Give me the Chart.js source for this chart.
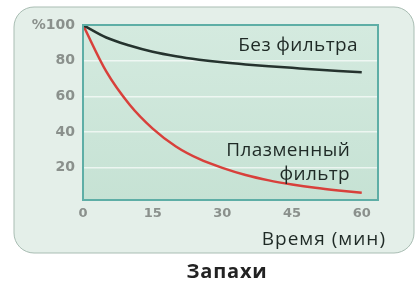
<!DOCTYPE html>
<html>
<head>
<meta charset="utf-8">
<script src="https://cdn.jsdelivr.net/npm/chart.js@4"></script>
<style>
  html, body { margin: 0; padding: 0; background: #fff; }
  #wrap { width: 415px; height: 284px; }
</style>
</head>
<body>
<div id="wrap"><canvas id="chart" width="415" height="284"></canvas></div>
<script>
// time in minutes
const minutes = [0, 5, 10, 15, 20, 25, 30, 35, 40, 45, 50, 55, 60];
// remaining odour, %
const noFilter = [100, 93, 88.5, 85, 82.5, 80.6, 79.1, 77.9, 76.9, 76, 75.1, 74.3, 73.5];
const plasmaFilter = [100, 74, 55.5, 42, 32, 25, 20, 16, 13, 10.7, 8.8, 7.3, 6];
const yTicks = [20, 40, 60, 80, 100];
const xTicks = [0, 15, 30, 45, 60];
const seriesNames = ["Без фильтра", "Плазменный фильтр"];
const xTitle = "Время (мин)";
const chartTitle = "Запахи";

const toPoints = (vals) => vals.map((v, i) => ({ x: minutes[i], y: v }));

// panel, plot fill, frame and labels
const decor = {
    id: "decor",
    beforeDraw(chart) {
        const { ctx, chartArea: a } = chart;
        ctx.save();
        ctx.fillStyle = "#ffffff";
        ctx.fillRect(0, 0, chart.width, chart.height);
        // rounded panel
        ctx.beginPath();
        ctx.roundRect(14, 7, 400, 246, 20);
        ctx.fillStyle = "#e4efe9";
        ctx.fill();
        ctx.strokeStyle = "#a9bdb3";
        ctx.lineWidth = 1;
        ctx.stroke();
        // plot area
        const g = ctx.createLinearGradient(0, a.top, 0, a.bottom);
        g.addColorStop(0, "#d4eadf");
        g.addColorStop(1, "#c6e2d4");
        ctx.fillStyle = g;
        ctx.fillRect(a.left, a.top, a.right - a.left, a.bottom - a.top);
        ctx.restore();
    },
    afterDatasetsDraw(chart) {
        const { ctx, chartArea: a, scales: { x, y } } = chart;
        ctx.save();
        ctx.strokeStyle = "#5eaea6";
        ctx.lineWidth = 2;
        ctx.strokeRect(a.left, a.top, a.right - a.left, a.bottom - a.top);

        ctx.fillStyle = "#1f2a26";
        ctx.font = "19px 'Open Sans', sans-serif";
        ctx.letterSpacing = "0.4px";
        ctx.textAlign = "right";
        ctx.textBaseline = "middle";
        ctx.fillText(seriesNames[0], x.getPixelForValue(59.2), y.getPixelForValue(88.5));
        ctx.fillText("Плазменный", x.getPixelForValue(57.5), y.getPixelForValue(29.5));
        ctx.fillText("фильтр", x.getPixelForValue(57.5), y.getPixelForValue(16.5));

        ctx.letterSpacing = "1px";
        ctx.fillText(xTitle, 386, 240);

        ctx.textAlign = "center";
        ctx.font = "bold 20px 'Open Sans', sans-serif";
        ctx.letterSpacing = "0.8px";
        ctx.fillStyle = "#222";
        ctx.fillText(chartTitle, 227, 272);
        ctx.restore();
    }
};

new Chart(document.getElementById("chart"), {
    type: "line",
    data: {
        datasets: [
            { label: seriesNames[0], data: toPoints(noFilter), borderColor: "#25332e", borderWidth: 2.5, pointRadius: 0, cubicInterpolationMode: "monotone" },
            { label: seriesNames[1], data: toPoints(plasmaFilter), borderColor: "#d8403b", borderWidth: 2.5, pointRadius: 0, cubicInterpolationMode: "monotone" },
        ],
    },
    options: {
        responsive: false,
        animation: false,
        layout: { padding: { left: 0, top: 25, right: 37, bottom: 0 } },
        plugins: { legend: { display: false }, tooltip: { enabled: false } },
        scales: {
            x: {
                type: "linear", min: 0, max: 63.5,
                afterBuildTicks: (s) => { s.ticks = xTicks.map((v) => ({ value: v })); },
                afterFit: (s) => { s.height = 84; },
                grid: { display: false, drawTicks: false },
                border: { display: false },
                ticks: { color: "#8a908c", padding: 6, font: { family: "DejaVu Sans", size: 13, weight: "bold" } },
            },
            y: {
                min: 2, max: 100,
                afterBuildTicks: (s) => { s.ticks = yTicks.map((v) => ({ value: v })); },
                afterFit: (s) => { s.width = 83; },
                grid: { color: "rgba(255,255,255,0.65)", lineWidth: 1.5, drawTicks: false },
                border: { display: false },
                ticks: {
                    color: "#8a908c", padding: 8, font: { family: "DejaVu Sans", size: 14, weight: "bold" },
                    callback: (v) => (v === 100 ? "%100" : v),
                },
            },
        },
    },
    plugins: [decor],
});
</script>
</body>
</html>
